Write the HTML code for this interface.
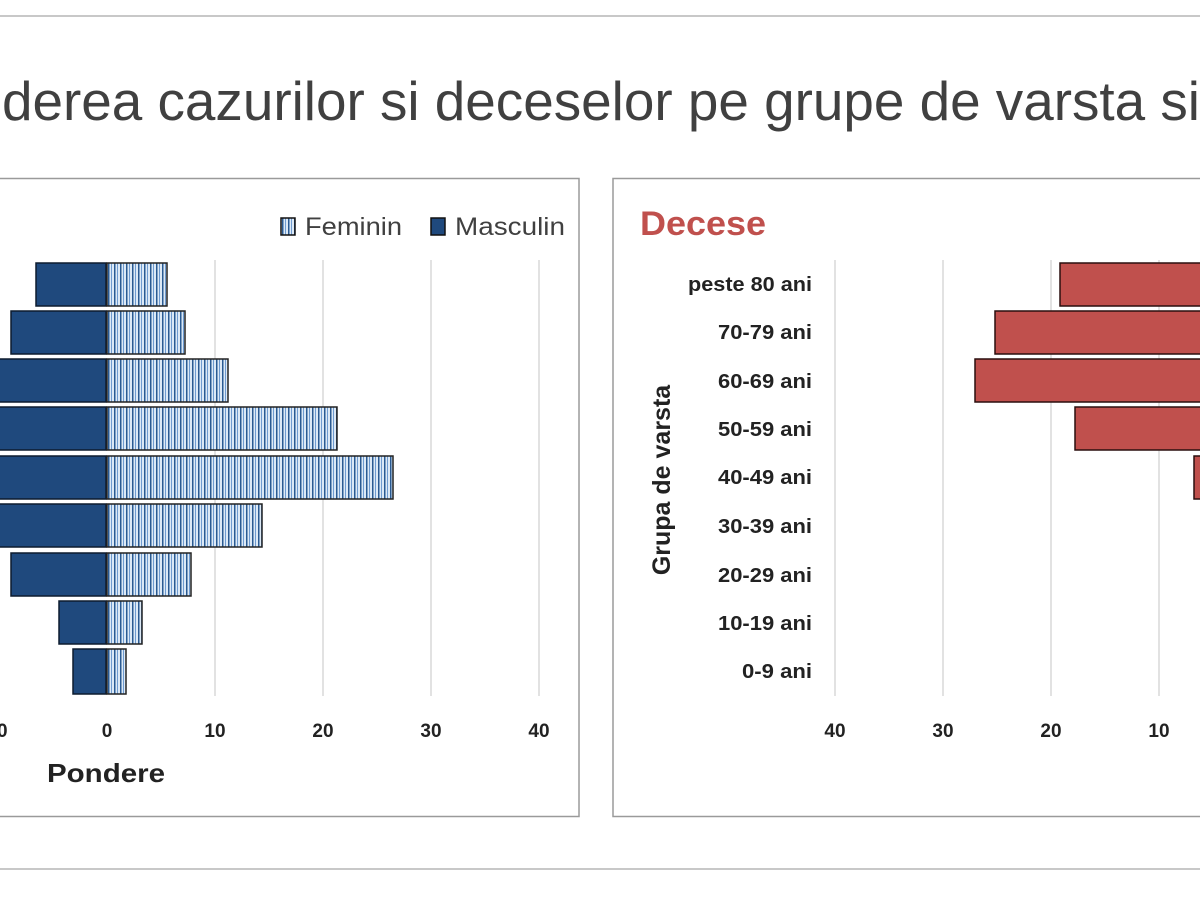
<!DOCTYPE html>
<html><head><meta charset="utf-8"><style>html,body{margin:0;padding:0;background:#fff;}svg{display:block}</style></head>
<body>
<svg width="1200" height="900" viewBox="0 0 1200 900" xmlns="http://www.w3.org/2000/svg" font-family="Liberation Sans, sans-serif">
<defs>
<pattern id="fem" width="6" height="10" patternUnits="userSpaceOnUse">
<rect width="6" height="10" fill="#dce9f6"/>
<rect x="0" width="1.5" height="10" fill="#2a5a92"/>
<rect x="3" width="1" height="10" fill="#6f9bd0"/>
</pattern>
</defs>
<rect width="1200" height="900" fill="#fff"/>
<line x1="0" y1="16" x2="1200" y2="16" stroke="#c8c8c8" stroke-width="2"/>
<line x1="0" y1="869" x2="1200" y2="869" stroke="#c8c8c8" stroke-width="2"/>
<text x="2" y="120" font-size="55" fill="#404040" textLength="1198" lengthAdjust="spacingAndGlyphs">derea cazurilor si deceselor pe grupe de varsta si</text>
<rect x="-5" y="178.5" width="584" height="638" fill="#fff" stroke="#9a9a9a" stroke-width="1.5"/>
<rect x="613" y="178.5" width="600" height="638" fill="#fff" stroke="#9a9a9a" stroke-width="1.5"/>
<g stroke="#d9d9d9" stroke-width="1.5">
<line x1="215" y1="260" x2="215" y2="696"/><line x1="323" y1="260" x2="323" y2="696"/><line x1="431" y1="260" x2="431" y2="696"/><line x1="539" y1="260" x2="539" y2="696"/>
<line x1="835" y1="260" x2="835" y2="696"/><line x1="943" y1="260" x2="943" y2="696"/><line x1="1051" y1="260" x2="1051" y2="696"/><line x1="1159" y1="260" x2="1159" y2="696"/>
</g>
<rect x="281" y="218" width="14" height="17" fill="url(#fem)" stroke="#111" stroke-width="1.5"/>
<text x="305" y="235" font-size="25" fill="#404040" textLength="97" lengthAdjust="spacingAndGlyphs">Feminin</text>
<rect x="431" y="218" width="14" height="17" fill="#1f497d" stroke="#111" stroke-width="1.5"/>
<text x="455" y="235" font-size="25" fill="#404040" textLength="110" lengthAdjust="spacingAndGlyphs">Masculin</text>
<g fill="#1f497d" stroke="#0d1b2e" stroke-width="1.5">
<rect x="36" y="263" width="70" height="43"/>
<rect x="11" y="311" width="95" height="43"/>
<rect x="-5" y="359" width="111" height="43"/>
<rect x="-5" y="407" width="111" height="43"/>
<rect x="-5" y="456" width="111" height="43"/>
<rect x="-5" y="504" width="111" height="43"/>
<rect x="11" y="553" width="95" height="43"/>
<rect x="59" y="601" width="47" height="43"/>
<rect x="73" y="649" width="33" height="45"/>
</g>
<g fill="url(#fem)" stroke="#222" stroke-width="1.5">
<rect x="107" y="263" width="60" height="43"/>
<rect x="107" y="311" width="78" height="43"/>
<rect x="107" y="359" width="121" height="43"/>
<rect x="107" y="407" width="230" height="43"/>
<rect x="107" y="456" width="286" height="43"/>
<rect x="107" y="504" width="155" height="43"/>
<rect x="107" y="553" width="84" height="43"/>
<rect x="107" y="601" width="35" height="43"/>
<rect x="107" y="649" width="19" height="45"/>
</g>
<g font-size="19" fill="#222" text-anchor="middle" font-weight="bold">
<text x="-3" y="737">10</text><text x="107" y="737">0</text><text x="215" y="737">10</text><text x="323" y="737">20</text><text x="431" y="737">30</text><text x="539" y="737">40</text>
<text x="835" y="737">40</text><text x="943" y="737">30</text><text x="1051" y="737">20</text><text x="1159" y="737">10</text>
</g>
<text x="47" y="782" font-size="26" font-weight="bold" fill="#222" textLength="118" lengthAdjust="spacingAndGlyphs">Pondere</text>
<text x="640" y="235" font-size="34" font-weight="bold" fill="#c0504d" textLength="126" lengthAdjust="spacingAndGlyphs">Decese</text>
<text transform="translate(670,480) rotate(-90)" font-size="25" font-weight="bold" fill="#222" text-anchor="middle">Grupa de varsta</text>
<g font-size="20" fill="#222" text-anchor="end" font-weight="bold">
<text x="812" y="291" textLength="124" lengthAdjust="spacingAndGlyphs">peste 80 ani</text>
<text x="812" y="339" textLength="94" lengthAdjust="spacingAndGlyphs">70-79 ani</text>
<text x="812" y="388" textLength="94" lengthAdjust="spacingAndGlyphs">60-69 ani</text>
<text x="812" y="436" textLength="94" lengthAdjust="spacingAndGlyphs">50-59 ani</text>
<text x="812" y="484" textLength="94" lengthAdjust="spacingAndGlyphs">40-49 ani</text>
<text x="812" y="533" textLength="94" lengthAdjust="spacingAndGlyphs">30-39 ani</text>
<text x="812" y="582" textLength="94" lengthAdjust="spacingAndGlyphs">20-29 ani</text>
<text x="812" y="630" textLength="94" lengthAdjust="spacingAndGlyphs">10-19 ani</text>
<text x="812" y="678" textLength="70" lengthAdjust="spacingAndGlyphs">0-9 ani</text>
</g>
<g fill="#c0504d" stroke="#2a0f0e" stroke-width="1.5">
<rect x="1060" y="263" width="160" height="43"/>
<rect x="995" y="311" width="225" height="43"/>
<rect x="975" y="359" width="245" height="43"/>
<rect x="1075" y="407" width="145" height="43"/>
<rect x="1194" y="456" width="26" height="43"/>
</g>
</svg>
</body></html>
